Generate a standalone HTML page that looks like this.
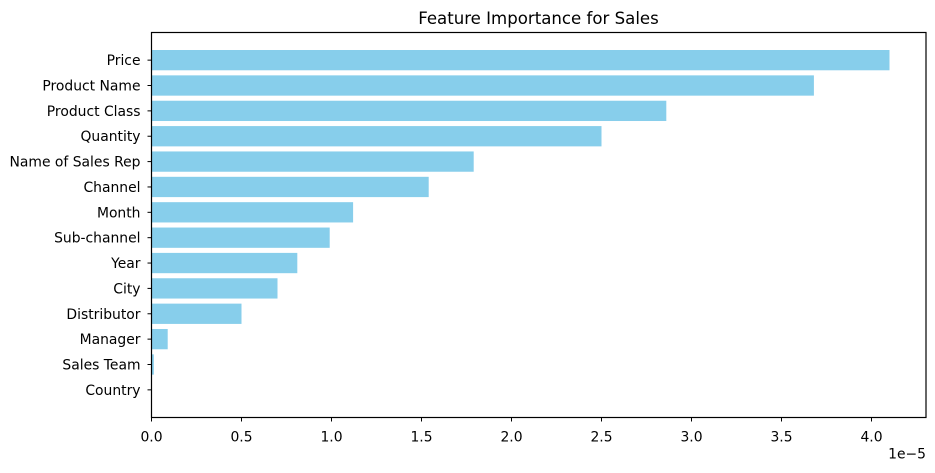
<!DOCTYPE html>
<html><head><meta charset="utf-8"><style>
body{margin:0;background:#fff;font-family:"DejaVu Sans","Liberation Sans",sans-serif;}
svg text{font-family:"DejaVu Sans","Liberation Sans",sans-serif;font-size:13.9px;fill:#000;}
</style></head><body>
<svg id="chart" width="935" height="469" xmlns="http://www.w3.org/2000/svg">
<text x="538.5" y="24" text-anchor="middle" style="font-size:16.6px">Feature Importance for Sales</text>
<g id="bars"></g><g id="axes"></g>
</svg>
<script>
const categories=["Price","Product Name","Product Class","Quantity","Name of Sales Rep","Channel","Month","Sub-channel","Year","City","Distributor","Manager","Sales Team","Country"];
const values=[4.10,3.68,2.86,2.50,1.79,1.54,1.12,0.99,0.81,0.70,0.50,0.09,0.013,0.0];
const xTicks=[0,0.5,1,1.5,2,2.5,3,3.5,4];
const xTickLabels=["0.0","0.5","1.0","1.5","2.0","2.5","3.0","3.5","4.0"];
const NS="http://www.w3.org/2000/svg";
const L=151.5,R=926,T=32.5,B=417.5;
const x=v=>L+v*180;
const step=(B-T)/15.18;
const y=i=>T+(0.69+0.4+i)*step;
const bars=document.getElementById('bars'),axes=document.getElementById('axes');
function mk(tag,attrs,parent,text){const e=document.createElementNS(NS,tag);for(const k in attrs)e.setAttribute(k,attrs[k]);if(text!==undefined)e.textContent=text;parent.appendChild(e);return e;}
categories.forEach((c,i)=>{
  const r=mk('rect',{x:x(0),y:y(i)-0.4*step,width:Math.max(0,x(values[i])-x(0)),height:0.8*step,fill:'#87ceeb'},bars);
  
  
  const tl=mk('line',{x1:L-4,x2:L,y1:y(i),y2:y(i),stroke:'#000','stroke-width':1},axes);
  
  
  const t=mk('text',{x:L-11,y:y(i)+5,'text-anchor':'end'},axes,c);
  
  
});
xTicks.forEach((v,i)=>{
  const tl=mk('line',{x1:x(v),x2:x(v),y1:B,y2:B+4,stroke:'#000','stroke-width':1},axes);
  
  
  const t=mk('text',{x:x(v),y:B+24,'text-anchor':'middle'},axes,xTickLabels[i]);
  
  
});
const f=mk('rect',{x:L,y:T,width:R-L,height:B-T,fill:'none',stroke:'#000','stroke-width':1.2},axes);


const o=mk('text',{x:R,y:B+41,'text-anchor':'end'},axes,'1e\u22125');


</script>
</body></html>
